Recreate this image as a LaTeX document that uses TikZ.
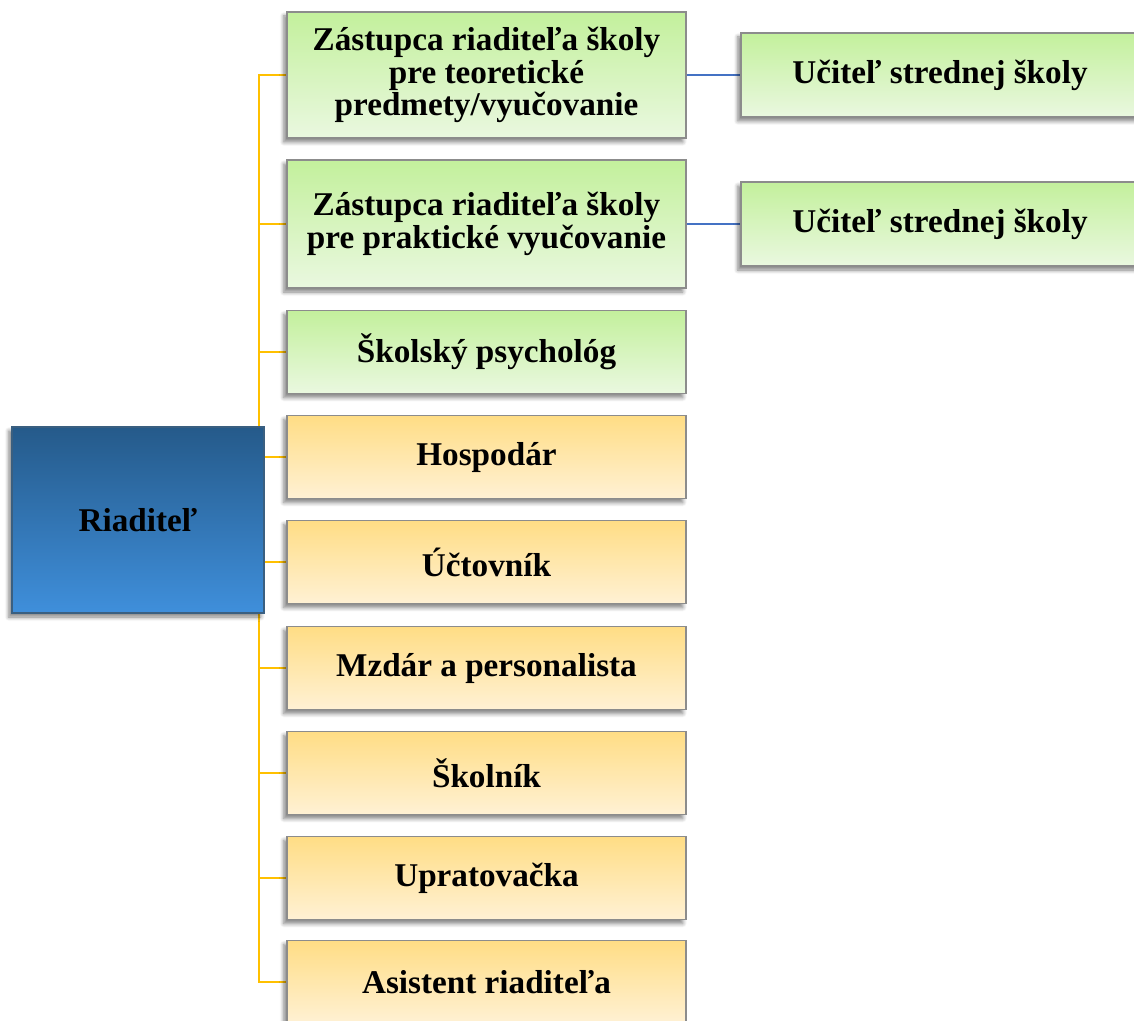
\documentclass[tikz,border=0pt]{standalone}
\usepackage{fontspec}
\setmainfont{Liberation Serif}
\usetikzlibrary{shadows.blur,backgrounds}
\definecolor{bluetop}{HTML}{255A8A}
\definecolor{bluebot}{HTML}{3F8FDB}
\definecolor{blueedge}{HTML}{3A5F80}
\definecolor{greentop}{HTML}{C3F09C}
\definecolor{greenbot}{HTML}{EAF8E0}
\definecolor{yeltop}{HTML}{FFDD85}
\definecolor{yelbot}{HTML}{FFF1D4}
\definecolor{boxedge}{HTML}{8C8C8C}
\definecolor{orgline}{HTML}{FFC000}
\definecolor{blueline}{HTML}{4472C4}
\tikzset{
  base/.style={rectangle, draw=boxedge, line width=0.6pt, align=center,
    font=\fontsize{16.6}{16.4}\selectfont\bfseries, text=black,
    blur shadow={shadow xshift=-1.6pt, shadow yshift=-2pt, shadow blur steps=6, shadow blur radius=2pt, shadow opacity=50}},
  bossbox/.style={base, draw=blueedge, top color=bluetop, bottom color=bluebot},
  greenbox/.style={base, top color=greentop, bottom color=greenbot},
  yelbox/.style={base, top color=yeltop, bottom color=yelbot},
  orgconn/.style={draw=orgline, line width=1.1pt},
  blueconn/.style={draw=blueline, line width=1.1pt},
}
\begin{document}
\begin{tikzpicture}[x=0.5pt,y=-0.5pt]
\useasboundingbox (0,0) rectangle (1134,1021);
\node[bossbox, minimum width=126pt, minimum height=93pt] (riad) at (138,520) {Riaditeľ};
\node[greenbox, minimum width=199.5pt, minimum height=63pt] (g1) at (486.5,75) {Zástupca riaditeľa školy\\pre teoretické\\predmety/vyučovanie};
\node[greenbox, minimum width=199.5pt, minimum height=64pt] (g2) at (486.5,224) {Zástupca riaditeľa školy\\pre praktické vyučovanie};
\node[greenbox, minimum width=199.5pt, minimum height=41.5pt] (g3) at (486.5,352) {Školský psychológ};
\node[yelbox, minimum width=199.5pt, minimum height=41.5pt] (y1) at (486.5,457) {Hospodár};
\node[yelbox, minimum width=199.5pt, minimum height=41.5pt] (y2) at (486.5,562) {Účtovník};
\node[yelbox, minimum width=199.5pt, minimum height=41.5pt] (y3) at (486.5,668) {Mzdár a personalista};
\node[yelbox, minimum width=199.5pt, minimum height=41.5pt] (y4) at (486.5,773) {Školník};
\node[yelbox, minimum width=199.5pt, minimum height=41.5pt] (y5) at (486.5,878) {Upratovačka};
\node[yelbox, minimum width=199.5pt, minimum height=41.5pt] (y6) at (486.5,982) {Asistent riaditeľa};
\node[greenbox, minimum width=199pt, minimum height=42pt] (r1) at (940,75) {Učiteľ strednej školy};
\node[greenbox, minimum width=199pt, minimum height=42pt] (r2) at (940,224) {Učiteľ strednej školy};
\coordinate (trunk) at (259,520);
\begin{scope}[on background layer]
\foreach \c in {g1,g2,g3,y1,y2,y3,y4,y5,y6}{
  \draw[orgconn] (trunk) |- (\c.west);
}
\draw[blueconn] (g1.east) -- (r1.west);
\draw[blueconn] (g2.east) -- (r2.west);
\end{scope}
\end{tikzpicture}
\end{document}
